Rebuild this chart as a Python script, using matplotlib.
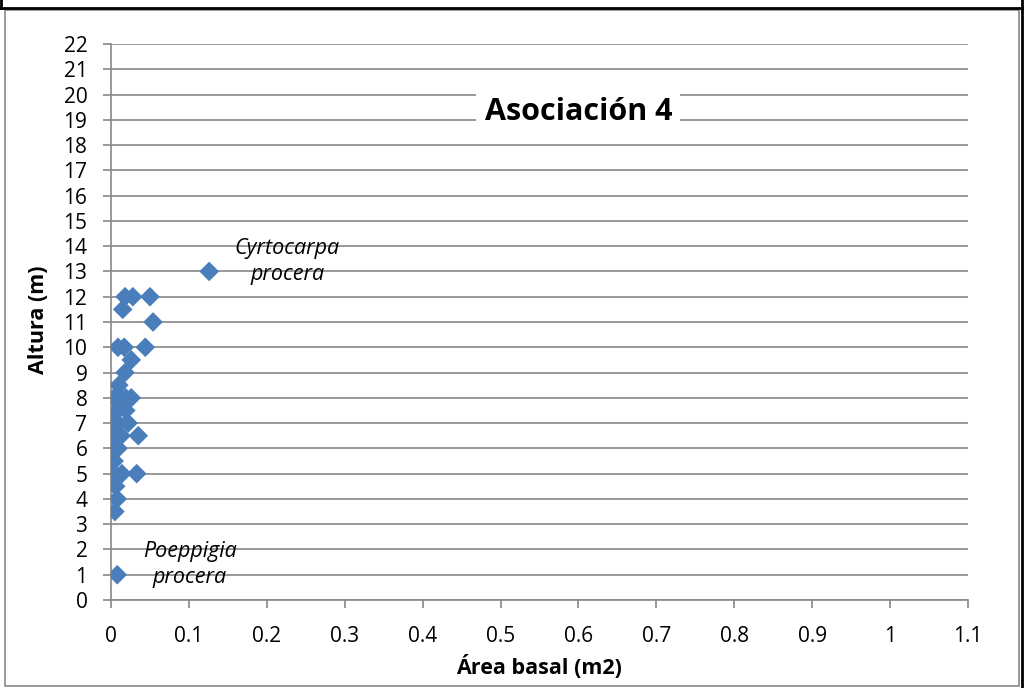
import matplotlib
matplotlib.use("Agg")
import matplotlib.pyplot as plt
from matplotlib.patches import Rectangle
from matplotlib.lines import Line2D

plt.rcParams['font.family'] = ['Open Sans', 'DejaVu Sans']

area_basal = [0.126, 0.018, 0.028, 0.050, 0.015, 0.054, 0.009, 0.017, 0.044,
              0.026, 0.018, 0.010, 0.004, 0.012, 0.019, 0.026, 0.008, 0.019,
              0.000, 0.009, 0.022, 0.006, 0.013, 0.035, 0.004, 0.009, 0.004,
              0.004, 0.014, 0.033, 0.006, 0.008, 0.005, 0.008]
altura = [13, 12, 12, 12, 11.5, 11, 10, 10, 10,
          9.5, 9, 8.5, 8, 8, 8, 8, 7.5, 7.5,
          7, 7, 7, 6.5, 6.5, 6.5, 6, 6, 5.5,
          5, 5, 5, 4.5, 4, 3.5, 1]

x_ticks = [0, 0.1, 0.2, 0.3, 0.4, 0.5, 0.6, 0.7, 0.8, 0.9, 1, 1.1]
x_labels = ['0', '0.1', '0.2', '0.3', '0.4', '0.5', '0.6', '0.7', '0.8', '0.9', '1', '1.1']
y_ticks = list(range(0, 23))

W, H = 1026, 688
fig = plt.figure(figsize=(W / 100, H / 100), dpi=100)
ax = fig.add_axes([111 / W, 1 - 600 / H, (968 - 111) / W, (600 - 44) / H])

ax.scatter(area_basal, altura, marker='D', s=100, color='#4a7ebb', zorder=3,
           edgecolors='none')

ax.set_xlim(0, 1.1)
ax.set_ylim(0, 22)
ax.set_xticks(x_ticks)
ax.set_xticklabels(x_labels)
ax.set_yticks(y_ticks)
ax.yaxis.grid(True, color='#888888', linewidth=1.2)
ax.set_axisbelow(True)
for s in ['top', 'right']:
    ax.spines[s].set_visible(False)
for s in ['left', 'bottom']:
    ax.spines[s].set_color('#888888')
    ax.spines[s].set_linewidth(1.2)
ax.tick_params(axis='both', colors='#888888', length=6, width=1.2,
               labelcolor='black', labelsize=15)
ax.tick_params(axis='x', pad=13)
ax.tick_params(axis='y', pad=11)

ax.set_xlabel('Área basal (m2)', fontsize=15.5, fontweight='bold', va='center')
ax.xaxis.set_label_coords((539 - 111) / 857, (600 - 667) / 556)
ax.set_ylabel('Altura (m)', fontsize=15.5, fontweight='bold', va='center')
ax.yaxis.set_label_coords((38 - 111) / 857, (600 - 320) / 556)

ax.text(0.6, 19.3, 'Asociación 4', fontsize=22, fontweight='bold', ha='center',
        va='center', bbox=dict(facecolor='white', edgecolor='none', pad=6), zorder=4)

ax.text(0.226, 13.4, 'Cyrtocarpa\nprocera', fontsize=15.5, style='italic',
        ha='center', va='center', linespacing=1.3, zorder=4)
ax.text(0.101, 1.4, 'Poeppigia\nprocera', fontsize=15.5, style='italic',
        ha='center', va='center', linespacing=1.3, zorder=4)

# chart frame
fig.add_artist(Rectangle((5 / W, 2 / H), (1019 - 5) / W, (678 - 2) / H,
                         transform=fig.transFigure, fill=False,
                         edgecolor='#888888', linewidth=1.2))
fig.add_artist(Line2D([0, 1022 / W], [1 - 8 / H, 1 - 8 / H],
                      transform=fig.transFigure, color='black', linewidth=2))
fig.add_artist(Line2D([1 / W, 1 / W], [1, 1 - 8 / H],
                      transform=fig.transFigure, color='black', linewidth=2))
fig.add_artist(Line2D([1022 / W, 1022 / W], [0, 1],
                      transform=fig.transFigure, color='black', linewidth=2))

fig.savefig('out.png', dpi=100)
